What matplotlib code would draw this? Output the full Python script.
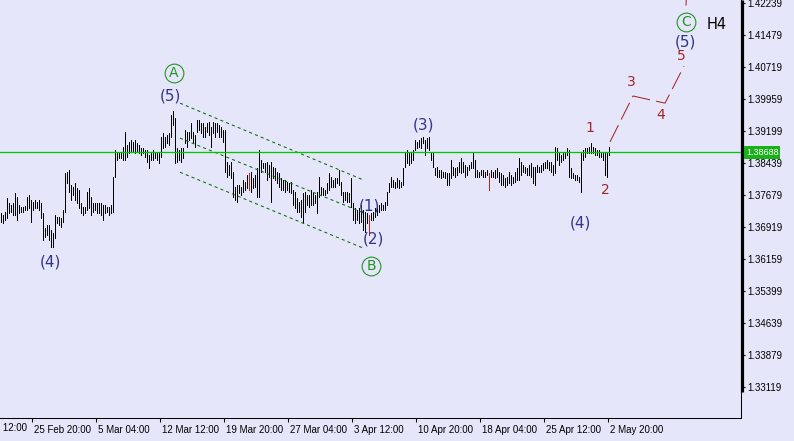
import matplotlib
matplotlib.use('Agg')
import matplotlib.pyplot as plt
import numpy as np
from matplotlib.transforms import ScaledTranslation

# H4 bars, high / low (one bar every 4 hours)
highs = [
    1.3725, 1.3720, 1.3727, 1.3761, 1.3749, 1.3744, 1.3749, 1.3773, 1.3763, 1.3744,
    1.3739, 1.3739, 1.3742, 1.3763, 1.3768, 1.3756, 1.3751, 1.3756, 1.3751, 1.3756,
    1.3749, 1.3725, 1.3689, 1.3697, 1.3697, 1.3685, 1.3678, 1.3720, 1.3716, 1.3716,
    1.3713, 1.3732, 1.3820, 1.3822, 1.3827, 1.3792, 1.3787, 1.3796, 1.3784, 1.3780,
    1.3749, 1.3739, 1.3739, 1.3775, 1.3784, 1.3763, 1.3749, 1.3749, 1.3749, 1.3749,
    1.3749, 1.3744, 1.3744, 1.3739, 1.3739, 1.3744, 1.3811, 1.3875, 1.3870, 1.3868,
    1.3870, 1.3882, 1.3918, 1.3887, 1.3894, 1.3899, 1.3894, 1.3899, 1.3891, 1.3887,
    1.3880, 1.3880, 1.3875, 1.3875, 1.3863, 1.3870, 1.3875, 1.3870, 1.3868, 1.3870,
    1.3906, 1.3915, 1.3906, 1.3910, 1.3915, 1.3958, 1.3967, 1.3951, 1.3880, 1.3875,
    1.3880, 1.3880, 1.3922, 1.3918, 1.3918, 1.3939, 1.3918, 1.3910, 1.3946, 1.3946,
    1.3939, 1.3939, 1.3929, 1.3939, 1.3941, 1.3929, 1.3941, 1.3939, 1.3939, 1.3934,
    1.3929, 1.3922, 1.3922, 1.3846, 1.3839, 1.3846, 1.3822, 1.3787, 1.3792, 1.3792,
    1.3787, 1.3804, 1.3799, 1.3815, 1.3820, 1.3822, 1.3808, 1.3815, 1.3832, 1.3875,
    1.3851, 1.3844, 1.3844, 1.3846, 1.3839, 1.3846, 1.3834, 1.3832, 1.3822, 1.3820,
    1.3808, 1.3804, 1.3804, 1.3799, 1.3796, 1.3799, 1.3780, 1.3775, 1.3761, 1.3751,
    1.3756, 1.3773, 1.3775, 1.3768, 1.3768, 1.3780, 1.3773, 1.3768, 1.3775, 1.3811,
    1.3787, 1.3784, 1.3780, 1.3796, 1.3820, 1.3811, 1.3804, 1.3808, 1.3808, 1.3827,
    1.3799, 1.3775, 1.3775, 1.3775, 1.3773, 1.3808, 1.3749, 1.3737, 1.3732, 1.3737,
    1.3744, 1.3732, 1.3727, 1.3725, 1.3720, 1.3725, 1.3727, 1.3737, 1.3739, 1.3744,
    1.3749, 1.3744, 1.3751, 1.3775, 1.3796, 1.3811, 1.3804, 1.3799, 1.3808, 1.3804,
    1.3799, 1.3832, 1.3870, 1.3875, 1.3870, 1.3868, 1.3875, 1.3899, 1.3894, 1.3899,
    1.3903, 1.3906, 1.3899, 1.3903, 1.3906, 1.3868, 1.3868, 1.3832, 1.3834, 1.3827,
    1.3827, 1.3822, 1.3822, 1.3820, 1.3820, 1.3851, 1.3834, 1.3832, 1.3834, 1.3846,
    1.3856, 1.3846, 1.3839, 1.3834, 1.3839, 1.3846, 1.3868, 1.3851, 1.3827, 1.3822,
    1.3827, 1.3827, 1.3822, 1.3827, 1.3820, 1.3827, 1.3822, 1.3827, 1.3832, 1.3822,
    1.3820, 1.3815, 1.3808, 1.3811, 1.3822, 1.3815, 1.3811, 1.3822, 1.3832, 1.3856,
    1.3846, 1.3839, 1.3834, 1.3832, 1.3839, 1.3844, 1.3834, 1.3834, 1.3839, 1.3834,
    1.3839, 1.3844, 1.3846, 1.3851, 1.3846, 1.3846, 1.3839, 1.3882, 1.3880, 1.3868,
    1.3863, 1.3868, 1.3870, 1.3880, 1.3875, 1.3832, 1.3820, 1.3815, 1.3815, 1.3811,
    1.3870, 1.3875, 1.3880, 1.3880, 1.3882, 1.3891, 1.3882, 1.3880, 1.3875, 1.3875,
    1.3870, 1.3868, 1.3868, 1.3870, 1.3882,
]
lows = [
    1.3704, 1.3701, 1.3708, 1.3713, 1.3725, 1.3727, 1.3720, 1.3720, 1.3708, 1.3725,
    1.3727, 1.3727, 1.3732, 1.3732, 1.3737, 1.3704, 1.3732, 1.3737, 1.3737, 1.3732,
    1.3713, 1.3661, 1.3668, 1.3673, 1.3661, 1.3644, 1.3644, 1.3666, 1.3701, 1.3697,
    1.3692, 1.3704, 1.3727, 1.3796, 1.3775, 1.3756, 1.3768, 1.3756, 1.3749, 1.3737,
    1.3725, 1.3720, 1.3725, 1.3732, 1.3737, 1.3720, 1.3727, 1.3732, 1.3725, 1.3725,
    1.3720, 1.3708, 1.3725, 1.3727, 1.3720, 1.3725, 1.3727, 1.3811, 1.3851, 1.3856,
    1.3856, 1.3851, 1.3851, 1.3858, 1.3868, 1.3870, 1.3870, 1.3868, 1.3870, 1.3868,
    1.3863, 1.3868, 1.3858, 1.3846, 1.3832, 1.3851, 1.3851, 1.3856, 1.3851, 1.3844,
    1.3858, 1.3880, 1.3882, 1.3891, 1.3887, 1.3906, 1.3934, 1.3844, 1.3846, 1.3851,
    1.3846, 1.3856, 1.3891, 1.3882, 1.3899, 1.3903, 1.3891, 1.3882, 1.3918, 1.3922,
    1.3915, 1.3906, 1.3906, 1.3918, 1.3910, 1.3882, 1.3915, 1.3906, 1.3918, 1.3906,
    1.3906, 1.3894, 1.3822, 1.3811, 1.3815, 1.3808, 1.3763, 1.3756, 1.3751, 1.3773,
    1.3768, 1.3775, 1.3780, 1.3784, 1.3780, 1.3775, 1.3784, 1.3787, 1.3763, 1.3763,
    1.3822, 1.3832, 1.3822, 1.3804, 1.3811, 1.3751, 1.3808, 1.3804, 1.3796, 1.3787,
    1.3780, 1.3780, 1.3775, 1.3780, 1.3775, 1.3773, 1.3744, 1.3737, 1.3727, 1.3727,
    1.3716, 1.3704, 1.3727, 1.3744, 1.3739, 1.3744, 1.3744, 1.3749, 1.3725, 1.3763,
    1.3768, 1.3768, 1.3768, 1.3773, 1.3780, 1.3787, 1.3787, 1.3787, 1.3796, 1.3792,
    1.3768, 1.3751, 1.3756, 1.3751, 1.3751, 1.3739, 1.3708, 1.3701, 1.3708, 1.3701,
    1.3704, 1.3685, 1.3680, 1.3701, 1.3673, 1.3708, 1.3708, 1.3716, 1.3720, 1.3727,
    1.3732, 1.3732, 1.3732, 1.3744, 1.3775, 1.3787, 1.3787, 1.3784, 1.3787, 1.3784,
    1.3787, 1.3792, 1.3834, 1.3844, 1.3839, 1.3844, 1.3851, 1.3875, 1.3880, 1.3882,
    1.3880, 1.3891, 1.3863, 1.3880, 1.3875, 1.3851, 1.3834, 1.3815, 1.3811, 1.3811,
    1.3808, 1.3811, 1.3808, 1.3792, 1.3792, 1.3808, 1.3815, 1.3811, 1.3815, 1.3822,
    1.3820, 1.3822, 1.3811, 1.3815, 1.3827, 1.3832, 1.3832, 1.3811, 1.3811, 1.3811,
    1.3815, 1.3811, 1.3811, 1.3815, 1.3780, 1.3811, 1.3811, 1.3808, 1.3811, 1.3799,
    1.3792, 1.3792, 1.3787, 1.3792, 1.3796, 1.3792, 1.3796, 1.3799, 1.3804, 1.3804,
    1.3815, 1.3822, 1.3820, 1.3815, 1.3815, 1.3811, 1.3796, 1.3792, 1.3822, 1.3822,
    1.3822, 1.3827, 1.3832, 1.3832, 1.3827, 1.3822, 1.3815, 1.3820, 1.3851, 1.3839,
    1.3846, 1.3851, 1.3856, 1.3863, 1.3811, 1.3808, 1.3808, 1.3804, 1.3804, 1.3799,
    1.3775, 1.3851, 1.3858, 1.3868, 1.3868, 1.3868, 1.3868, 1.3863, 1.3863, 1.3858,
    1.3858, 1.3851, 1.3815, 1.3811, 1.3863,
]
red_bars = [124, 184, 244]
last_price = 1.38688

price_ticks = [1.33119, 1.33879, 1.34639, 1.35399, 1.36159, 1.36919, 1.37679,
               1.38439, 1.39199, 1.39959, 1.40719, 1.41479, 1.42239]
date_labels = ['18 Feb 12:00', '25 Feb 20:00', '5 Mar 04:00', '12 Mar 12:00',
               '19 Mar 20:00', '27 Mar 04:00', '3 Apr 12:00', '10 Apr 20:00',
               '18 Apr 04:00', '25 Apr 12:00', '2 May 20:00']

# channel lines (bar index, price)
channel_x = [(89.5, 181), (89.5, 180.5), (89.5, 181)]
channel_y = [(1.3986, 1.3804), (1.3903, 1.3727), (1.3822, 1.3642)]

# projected wave path
path_x = [304.5, 316, 332, 341.5]
path_y = [1.3894, 1.4003, 1.3986, 1.4074]
tail_x = [342.5, 342.7]
tail_y = [1.4219, 1.4236]

# wave labels
major_text = ['(4)', '(5)', '(1)', '(2)', '(3)', '(4)', '(5)']
major_x = [24.5, 84.5, 184, 186, 211.5, 289.5, 342]
major_y = [1.3609, 1.4003, 1.3742, 1.3663, 1.3934, 1.3701, 1.4131]

minor_text = ['1', '2', '3', '4', '5']
minor_x = [294.5, 302, 315, 330, 340]
minor_y = [1.3927, 1.3780, 1.4036, 1.3958, 1.4098]

abc_text = ['A', 'B', 'C']
abc_x = [86.5, 185, 342.5]
abc_y = [1.4058, 1.3599, 1.4179]

bg = '#E6E6FA'
navy = '#34348C'
dark_red = '#9E2626'
circle_green = '#239323'
line_green = '#00C800'

plt.rcParams['font.family'] = ['Liberation Sans', 'DejaVu Sans']

fig = plt.figure(figsize=(7.94, 4.41), dpi=100, facecolor=bg)
ax = fig.add_axes([0, 23 / 441, 741 / 794, 418 / 441], facecolor=bg)

# bars
x = np.arange(len(highs))
bar_colors = ['#C02020' if i in red_bars else 'black' for i in x]
ax.vlines(x, lows, highs, colors=bar_colors, lw=0.5, antialiased=False)

# current price
ax.axhline(last_price, color=line_green, lw=0.95, snap=False, zorder=3)

# channel
for cx, cy in zip(channel_x, channel_y):
    ax.plot(cx, cy, color='#0A6A0A', lw=0.75, dashes=(3, 3))

# projection
ax.plot(path_x, path_y, color='#A32828', lw=0.75, dashes=(18, 6))
ax.plot(tail_x, tail_y, color='#A32828', lw=0.75)

# labels
for t, lx, ly in zip(major_text, major_x, major_y):
    ax.text(lx, ly, t, color=navy, fontsize=11, family='DejaVu Sans',
            ha='center', va='center')
for t, lx, ly in zip(minor_text, minor_x, minor_y):
    ax.text(lx, ly, t, color=dark_red, fontsize=10, family='DejaVu Sans',
            ha='center', va='center')
ax.plot(abc_x, abc_y, 'o', ms=13.5, mfc='none', mec=circle_green, mew=0.8)
for t, lx, ly in zip(abc_text, abc_x, abc_y):
    ax.text(lx, ly, t, color=circle_green, fontsize=10, family='DejaVu Sans',
            ha='center', va='center')
ax.text(358, 1.4172, 'H4', color='black', fontsize=10.5, family='DejaVu Sans',
        ha='center', va='center')

# axes
ax.set_xlim(-0.5, 370)
ax.set_ylim(1.323825, 1.4231)

ax.yaxis.tick_right()
ax.set_yticks(price_ticks)
ax.set_yticklabels([f'{p:.5f}' for p in price_ticks])
ax.tick_params(axis='y', direction='out', length=3, width=0.75, pad=1.5,
               labelsize=7, colors='black')

tick_pos = [-16.5 + 32 * k for k in range(len(date_labels))]
ax.set_xticks(tick_pos[1:])
ax.set_xticklabels(date_labels[1:])
ax.tick_params(axis='x', direction='out', length=3, width=0.75, pad=2,
               labelsize=7, colors='black')
shift = ScaledTranslation(2 / 100, 0, fig.dpi_scale_trans)
for lbl in ax.get_xticklabels():
    lbl.set_ha('left')
    lbl.set_transform(lbl.get_transform() + shift)
# first date label is cut by the left edge, as in the source chart
ax.text(tick_pos[0], 0, date_labels[0], fontsize=7, ha='left', va='top',
        transform=ax.get_xaxis_transform() + ScaledTranslation(2 / 100, -5 / 100, fig.dpi_scale_trans),
        clip_on=False)

for side in ['top', 'left']:
    ax.spines[side].set_visible(False)
for side in ['bottom', 'right']:
    ax.spines[side].set_linewidth(0.75)
ax.plot([1.0015, 1.0015], [26 / 418, 1], transform=ax.transAxes, color='black',
        lw=2.3, clip_on=False, solid_capstyle='butt')

# price tag on the scale
ax.annotate(f'{last_price:.5f}', xy=(1, last_price), xycoords=('axes fraction', 'data'),
            xytext=(3.6, 0), textcoords='offset points', ha='left', va='center',
            fontsize=6.5, color='white', annotation_clip=False,
            bbox=dict(boxstyle='square,pad=0.2', fc='#19B019', ec='none'))

fig.savefig('out.png', dpi=100, facecolor=bg)
